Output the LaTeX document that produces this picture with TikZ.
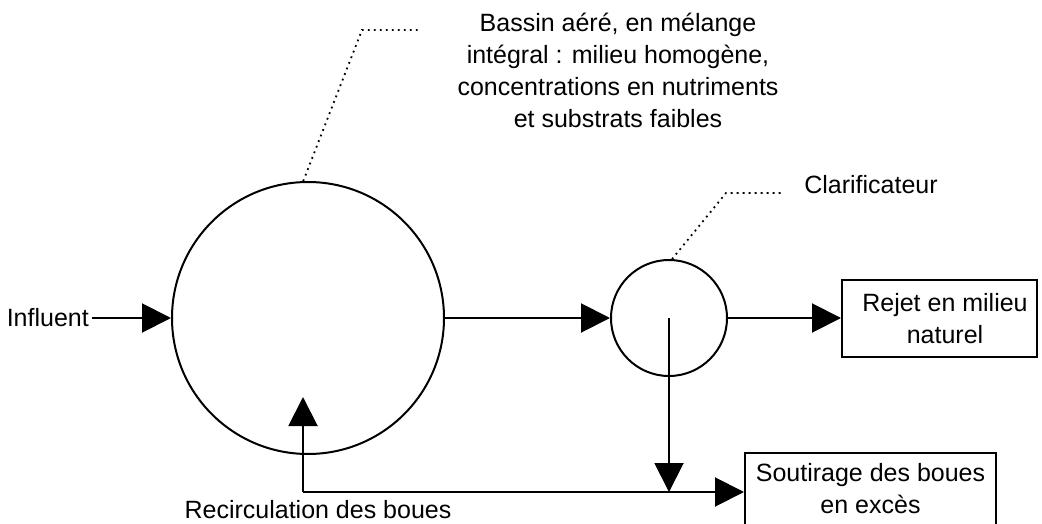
\documentclass[tikz,border=0pt]{standalone}
\usepackage{fontspec}
\setmainfont{Liberation Sans}
\usetikzlibrary{arrows.meta}
\tikzset{
  lbl/.style={inner sep=3pt, font=\fontsize{25}{32}\selectfont, align=center},
  flow/.style={line width=2pt, -{Triangle[length=29pt,width=29pt]}},
  leader/.style={line width=1.8pt, dash pattern=on 1.8pt off 4.2pt},
  boxx/.style={draw, line width=2pt, inner sep=0pt},
}
\begin{document}
\begin{tikzpicture}[x=1pt,y=-1pt]
\clip (0,0) rectangle (1042,524);
\fill[white] (0,0) rectangle (1042,524);
% shapes
\node[circle, draw, line width=2pt, minimum size=272pt, inner sep=0pt] (bigc) at (308,318) {};
\node[circle, draw, line width=2pt, minimum size=116pt, inner sep=0pt] (smallc) at (669,318) {};
\node[boxx, minimum width=195pt, minimum height=77pt] (rejet) at (939.5,318.5) {};
\node[lbl] (rejettxt) at (945,319) {Rejet en milieu\\naturel};
\node[boxx, minimum width=251pt, minimum height=84pt] (sout) at (870.5,495) {};
\node[lbl] (souttxt) at (870.5,489) {Soutirage des boues\\en excès};
% labels
\node[lbl, anchor=east] (influent) at (92,318) {Influent};
\node[lbl] (recirc) at (318,510) {Recirculation des boues};
\node[lbl] (bassin) at (618,70) {Bassin aéré, en mélange\\intégral : milieu homogène,\\concentrations en nutriments\\et substrats faibles};
\node[lbl] (clarif) at (871,185) {Clarificateur};
% junction coordinates
\coordinate (j1) at (303,492);
\coordinate (j2) at (669,492);
\coordinate (l1) at (362,30);
\coordinate (l2) at (419,30);
\coordinate (l3) at (726,193);
\coordinate (l4) at (783,193);
% connectors
\draw[flow] (influent.east) -- (bigc.west);
\draw[flow] (bigc.east) -- (smallc.west);
\draw[flow] (smallc.east) -- (smallc.east -| rejet.west);
\draw[flow] (smallc.center) -- (j2);
\draw[flow] (j1) -- (j1 -| sout.west);
\draw[flow] (j1) -- (303,397);
% leaders
\draw[leader] (bigc.92) -- (l1) -- (l2);
\draw[leader] (smallc.87) -- (l3) -- (l4);
\end{tikzpicture}
\end{document}
